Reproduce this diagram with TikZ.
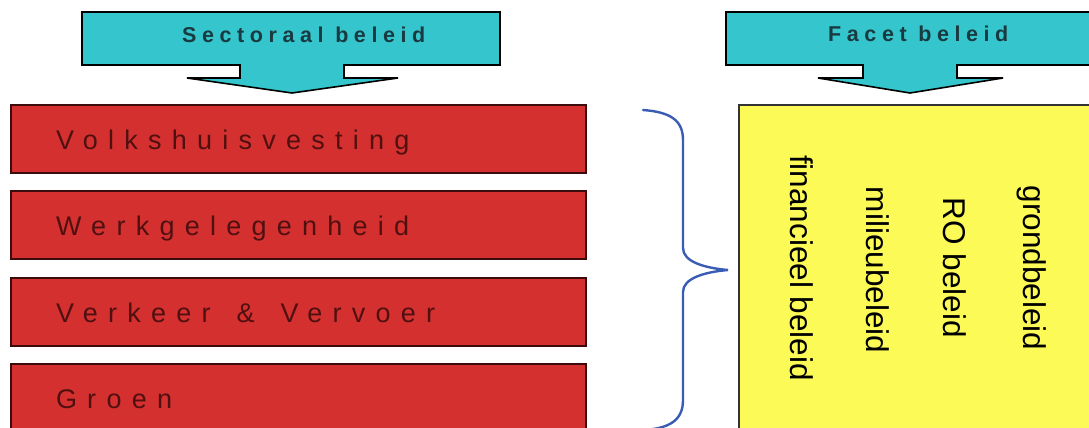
\documentclass[tikz,border=0pt]{standalone}
\usepackage{fontspec}
\setmainfont{Liberation Sans}
\newfontfamily\redfont[LetterSpace=38]{Liberation Sans}
\newfontfamily\cyanfont[LetterSpace=26]{Liberation Sans Bold}
\definecolor{cyanfill}{RGB}{52,198,204}
\definecolor{redfill}{RGB}{212,48,48}
\definecolor{redline}{RGB}{60,12,12}
\definecolor{redtext}{RGB}{80,16,16}
\definecolor{cyantext}{RGB}{26,58,66}
\definecolor{yellowfill}{RGB}{252,250,86}
\definecolor{bracecol}{RGB}{58,92,180}
\tikzset{
  arrowshape/.style={draw=black, line width=1.6pt, fill=cyanfill, line join=miter},
  arrowtext/.style={text=cyantext, font=\cyanfont\fontsize{21.5}{26}\selectfont, inner sep=0pt},
  redbox/.style={draw=redline, line width=2pt, fill=redfill, anchor=north west,
    minimum height=68pt, text width=485pt, inner xsep=45pt, inner ysep=0pt, align=left,
    text height=24pt, text depth=3pt, text=redtext, font=\redfont\fontsize{27}{32}\selectfont},
  yellowbox/.style={draw=black!80, line width=2pt, fill=yellowfill, anchor=north west,
    minimum width=380pt, minimum height=340pt},
  vtext/.style={rotate=-90, inner sep=0pt, font=\fontsize{31.5}{36}\selectfont, text=black},
  bracestyle/.style={draw=bracecol, line width=2.4pt, line cap=round}
}
\begin{document}
\begin{tikzpicture}[x=1pt,y=-1pt]
\useasboundingbox (0,0) rectangle (1089,428);
\clip (0,0) rectangle (1089,428);
% left arrow
\draw[arrowshape] (82,12) -- (500,12) -- (500,65) -- (344,65) -- (344,78) -- (398,78) -- (292,93) -- (187,78) -- (240,78) -- (240,65) -- (82,65) -- cycle;
\node[arrowtext, anchor=base west] (sect) at (182,43) {Sectoraal beleid};
% right arrow
\draw[arrowshape] (726,12) -- (1100,12) -- (1100,65) -- (957,65) -- (957,78) -- (1003,78) -- (910,93) -- (818,78) -- (863,78) -- (863,65) -- (726,65) -- cycle;
\node[arrowtext, anchor=base west] (facet) at (828,42) {Facet beleid};
% red boxes
\node[redbox] (b1) at (10,103.5) {Volkshuisvesting};
\node[redbox] (b2) at (10,190) {Werkgelegenheid};
\node[redbox] (b3) at (10,276.5) {Verkeer\hspace{26pt}\&\hspace{26pt}Vervoer};
\node[redbox] (b4) at (10,363) {Groen};
% brace
\draw[bracestyle] (643,110) .. controls (670,112) and (683,120) .. (683,140)
  -- (683,248) .. controls (683,262) and (705,268) .. (728,270)
  .. controls (705,272) and (683,278) .. (683,292)
  -- (683,400) .. controls (683,420) and (670,428) .. (645,430);
% yellow box
\node[yellowbox] (fb) at (738,104) {};
\node[vtext] (v1) at (802,268) {financieel beleid};
\node[vtext] (v2) at (878,270) {milieubeleid};
\node[vtext] (v3) at (955,268) {RO beleid};
\node[vtext] (v4) at (1032,268) {grondbeleid};
\end{tikzpicture}
\end{document}
